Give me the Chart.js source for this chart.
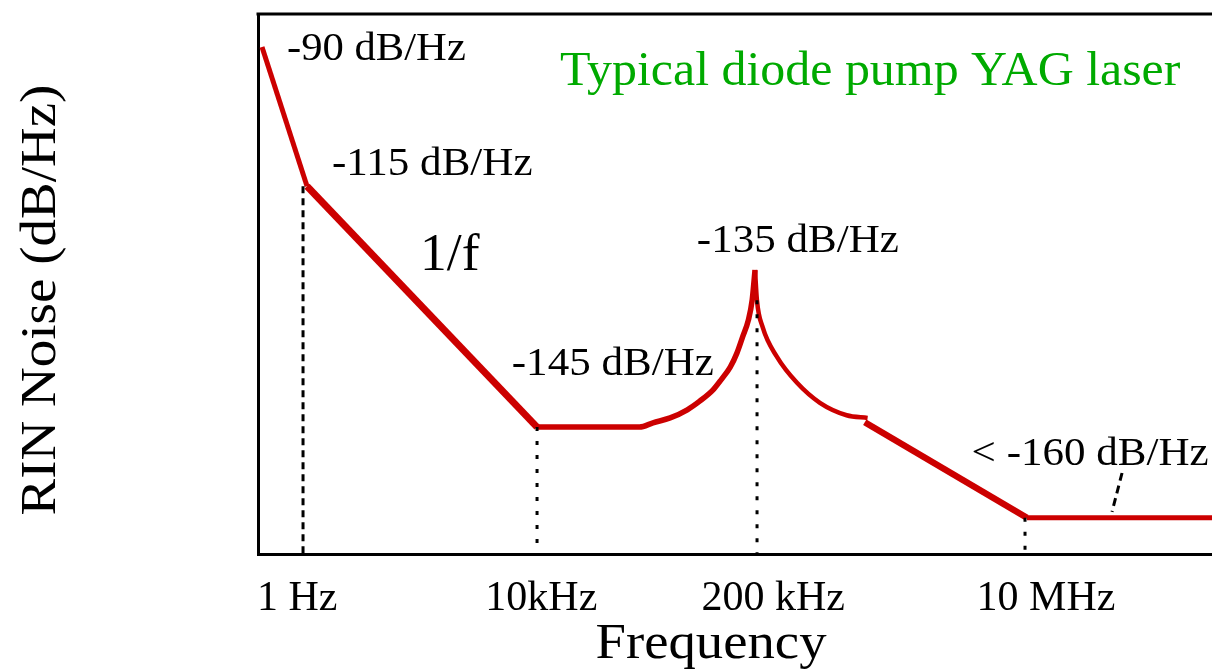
<!DOCTYPE html>
<html>
<head>
<meta charset="utf-8">
<script src="https://cdn.jsdelivr.net/npm/chart.js@4.4.0/dist/chart.umd.min.js"></script>
<style>
  html, body { margin: 0; padding: 0; background: #fff; }
  canvas { display: block; }
</style>
</head>
<body>
<canvas id="rinChart" width="1212" height="670"></canvas>
<script>
// Schematic units: x runs 0..100 across the frame, y 0..100 from bottom to top
const tickLabels = ['1 Hz', '10kHz', '200 kHz', '10 MHz'];
const tickPos = [4.1, 29.7, 54.0, 82.6];

const steepX = [0.42, 5.14];
const steepY = [93.9, 68.1];
const flickerX = [5.14, 29.25];
const flickerY = [68.1, 23.5];
const riseX = [29.25, 40.0, 41.4, 43.2, 45.0, 46.3, 47.7, 48.6, 49.5, 50.2, 50.8, 51.4, 51.8, 52.1];
const riseY = [23.5, 23.5, 24.3, 25.2, 26.7, 28.3, 30.4, 32.4, 34.6, 37.2, 40.2, 43.3, 47.0, 52.6];
const fallX = [52.1, 52.3, 52.9, 54.4, 56.5, 58.9, 61.7, 63.9];
const fallY = [52.6, 47.0, 42.0, 36.5, 31.7, 28.0, 25.7, 25.2];
const slopeX = [63.6, 80.6];
const slopeY = [24.4, 6.7];
const floorX = [80.6, 100];
const floorY = [6.7, 6.7];

// dashed drop lines from the corner points down to the axis
const markerX = [4.72, 29.25, 52.31, 80.4];
const markerTop = [68.1, 23.5, 47.0, 6.7];
const pointerX = [90.57, 89.52];
const pointerY = [15.0, 7.8];

const RED = '#cc0000';
const SERIF = "'Liberation Serif', 'Times New Roman', serif";

const toPoints = (xs, ys) => xs.map((v, i) => ({ x: v, y: ys[i] }));

const redLine = (xs, ys, width, smooth) => ({
    data: toPoints(xs, ys),
    borderColor: RED,
    borderWidth: width,
    pointRadius: 0,
    cubicInterpolationMode: smooth ? 'monotone' : 'default',
    order: 2
});

const dashLine = (xs, ys, dash) => ({
    data: toPoints(xs, ys),
    borderColor: '#000',
    borderWidth: 3,
    borderDash: dash,
    pointRadius: 0,
    order: 1
});

const datasets = [
    redLine(steepX, steepY, 5),
    redLine(flickerX, flickerY, 7),
    redLine(riseX, riseY, 5.5, true),
    redLine(fallX, fallY, 4.5, true),
    redLine(slopeX, slopeY, 6.5),
    redLine(floorX, floorY, 5),
    dashLine([markerX[0], markerX[0]], [markerTop[0], 0], [7, 5]),
    dashLine([markerX[1], markerX[1]], [markerTop[1], 0], [4, 10]),
    dashLine([markerX[2], markerX[2]], [markerTop[2], 0], [4, 10]),
    dashLine([markerX[3], markerX[3]], [markerTop[3], 0], [4, 10]),
    dashLine(pointerX, pointerY, [8, 5])
];

// text notes placed in chart units (left edge, baseline); the source type is a bit wide
const notes = [
    { text: '-90 dB/Hz', x: 3.04, y: 91.5, size: 41, stretch: 1.04, color: '#000' },
    { text: '-115 dB/Hz', x: 7.76, y: 70.2, size: 41, stretch: 1.05, color: '#000' },
    { text: '1/f', x: 16.98, y: 52.6, size: 52, stretch: 1.03, color: '#000' },
    { text: '-135 dB/Hz', x: 46.0, y: 55.9, size: 41, stretch: 1.05, color: '#000' },
    { text: '-145 dB/Hz', x: 26.6, y: 33.1, size: 41, stretch: 1.05, color: '#000' },
    { text: '< -160 dB/Hz', x: 74.8, y: 16.5, size: 41, stretch: 1.05, color: '#000' },
    { text: 'Typical diode pump YAG laser', x: 31.66, y: 86.9, size: 48, stretch: 1.04, color: '#00aa00' }
];

const stretchedText = (ctx, text, px, py, sx, angle) => {
    ctx.save();
    ctx.translate(px, py);
    if (angle) ctx.rotate(angle);
    ctx.scale(sx, 1);
    ctx.fillText(text, 0, 0);
    ctx.restore();
};

const frameAndText = {
    id: 'frameAndText',
    afterDatasetsDraw(chart) {
        const { ctx, chartArea, scales: { x, y } } = chart;
        ctx.save();

        // top edge of the frame
        ctx.strokeStyle = '#000';
        ctx.lineWidth = 3;
        ctx.beginPath();
        ctx.moveTo(chartArea.left - 1.5, chartArea.top);
        ctx.lineTo(chartArea.right, chartArea.top);
        ctx.stroke();

        ctx.textAlign = 'left';
        ctx.textBaseline = 'alphabetic';
        notes.forEach(n => {
            ctx.font = n.size + 'px ' + SERIF;
            ctx.fillStyle = n.color;
            stretchedText(ctx, n.text, x.getPixelForValue(n.x), y.getPixelForValue(n.y), n.stretch);
        });

        // axis titles
        ctx.fillStyle = '#000';
        ctx.font = '50px ' + SERIF;
        ctx.textAlign = 'center';
        stretchedText(ctx, 'Frequency', 711, 658, 1.095);
        stretchedText(ctx, 'RIN Noise (dB/Hz)', 55, 300, 1.1, -Math.PI / 2);

        ctx.restore();
    }
};

new Chart(document.getElementById('rinChart'), {
    type: 'line',
    data: { datasets },
    options: {
        responsive: false,
        devicePixelRatio: 1,
        animation: false,
        layout: { padding: { top: 14, right: 0, bottom: 0, left: 0 } },
        plugins: {
            legend: { display: false },
            tooltip: { enabled: false }
        },
        scales: {
            x: {
                type: 'linear',
                min: 0,
                max: 100,
                grid: { display: false },
                border: { display: true, color: '#000', width: 3 },
                afterBuildTicks: scale => {
                    scale.ticks = tickPos.map(v => ({ value: v }));
                },
                afterFit: scale => { scale.height = 116; },
                ticks: {
                    autoSkip: false,
                    maxRotation: 0,
                    padding: 12,
                    color: '#000',
                    font: { family: SERIF, size: 42 },
                    callback: (value, index) => tickLabels[index]
                }
            },
            y: {
                type: 'linear',
                min: 0,
                max: 100,
                grid: { display: false },
                border: { display: true, color: '#000', width: 3 },
                ticks: { display: false },
                afterFit: scale => { scale.width = 258; }
            }
        }
    },
    plugins: [frameAndText]
});
</script>
</body>
</html>
